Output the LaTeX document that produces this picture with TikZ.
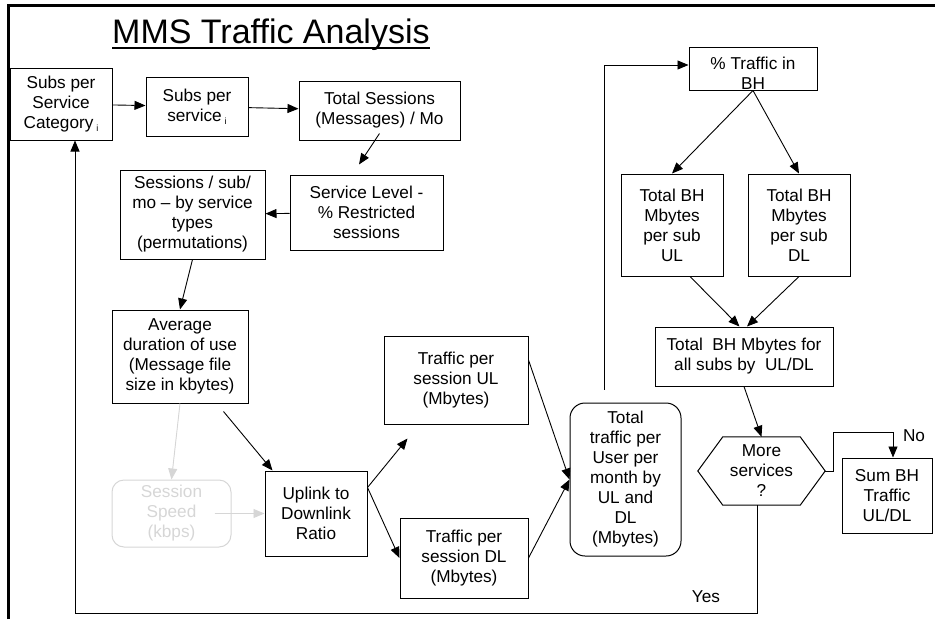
\documentclass[tikz,border=0pt]{standalone}
\usepackage{fontspec}
\setmainfont{Liberation Sans}
\usetikzlibrary{arrows.meta}
\definecolor{faded}{gray}{0.84}
\newcommand{\subi}{\,{\fontsize{9}{9}\selectfont\raisebox{-3pt}{i}}}
\begin{document}
\begin{tikzpicture}[x=1pt,y=-1pt,
  box/.style={draw,line width=1pt,align=center,inner sep=0pt,
    font=\fontsize{17.2}{20}\selectfont},
  arr/.style={line width=0.9pt,-{Triangle[length=11pt,width=9pt]}},
  note/.style={font=\fontsize{17.2}{20}\selectfont}]
\useasboundingbox (0,0) rectangle (935,619);
\draw[line width=3pt] (8,619) -- (8,5) -- (935,5);
\node[anchor=base west,inner sep=0pt,font=\fontsize{34}{40}\selectfont] (title) at (112,43) {MMS Traffic Analysis};
\draw[line width=1.8pt] ([yshift=-5pt]title.base west) -- ([yshift=-5pt]title.base east);
% left column
\node[box,minimum width=102pt,minimum height=72pt] (cat) at (61,104) {Subs per\\Service\\Category\subi};
\node[box,minimum width=102pt,minimum height=59pt] (srv) at (197,106.5) {Subs per\\service\subi};
\node[box,minimum width=161pt,minimum height=59pt] (sess) at (379.5,110.5) {Total Sessions\\(Messages) / Mo};
\node[box,minimum width=153pt,minimum height=75pt] (level) at (366.5,212.5) {Service Level -\\\% Restricted\\sessions};
\node[box,minimum width=145pt,minimum height=89pt] (permut) at (192.5,214.5) {Sessions / sub/\\mo -- by service\\types\\(permutations)};
\node[box,minimum width=136pt,minimum height=93pt] (avg) at (180,356.5) {Average\\duration of use\\(Message file\\size in kbytes)};
\node[box,draw=faded,text=faded,rounded corners=12pt,minimum width=119pt,minimum height=67pt] (speed) at (171.5,513.5) {Session\\Speed\\(kbps)};
\node[box,minimum width=102pt,minimum height=85pt] (ratio) at (316,513.5) {Uplink to\\Downlink\\Ratio};
\node[box,minimum width=144pt,minimum height=88pt] (tul) at (456,380) {Traffic per\\session UL\\(Mbytes)};
\node[box,minimum width=128pt,minimum height=80pt] (tdl) at (464,558) {Traffic per\\session DL\\(Mbytes)};
\node[box,rounded corners=15pt,minimum width=111pt,minimum height=153pt] (total) at (625.5,479.5) {Total\\traffic per\\User per\\month by\\UL and\\DL\\(Mbytes)};
% right column
\node[box,minimum width=128pt,minimum height=43pt,
  label={[note,align=center,yshift=-5pt]center:\% Traffic in\\BH}] (bh) at (753,68.5) {};
\node[box,minimum width=102pt,minimum height=102pt] (bhul) at (672,225) {Total BH\\Mbytes\\per sub\\UL};
\node[box,minimum width=102pt,minimum height=102pt] (bhdl) at (799,225) {Total BH\\Mbytes\\per sub\\DL};
\node[box,minimum width=178pt,minimum height=59pt] (all) at (744,356.5) {Total~~BH Mbytes for\\all subs by~~UL/DL};
\node[note,align=center,inner sep=0pt,minimum width=127pt,minimum height=68pt] (more) at (761.5,471) {More\\services\\?};
\draw[line width=1pt] (more.west) -- ([xshift=25pt]more.north west) -- ([xshift=-25pt]more.north east)
  -- (more.east) -- ([xshift=-25pt]more.south east) -- ([xshift=25pt]more.south west) -- cycle;
\node[box,minimum width=90pt,minimum height=75pt] (sum) at (887,495.5) {Sum BH\\Traffic\\UL/DL};
% connectors
\draw[arr] (cat) -- (srv);
\draw[arr] (srv) -- (sess);
\draw[arr] ([yshift=7pt]sess.south) -- ([xshift=-7.5pt,yshift=10pt]level.north);
\draw[arr] (level) -- (permut);
\draw[arr] (permut.south) -- (avg.north);
\draw[arr,draw=faded,fill=faded] (avg.south) -- (speed.north);
\draw[arr,draw=faded,fill=faded] ([xshift=-17pt]speed.east) -- (ratio.west);
\draw[arr] ([xshift=-25pt,yshift=-8pt]avg.south east) -- ([xshift=8pt]ratio.north west);
\draw[arr] ([yshift=-17pt]ratio.north east) -- ([xshift=24pt,yshift=-14pt]tul.south west);
\draw[arr] ([yshift=-17pt]ratio.north east) -- (tdl.west);
\draw[arr] ([yshift=20pt]tul.east) -- (total.west);
\draw[arr] (tdl.east) -- (total.west);
\draw[arr] ([xshift=-21pt,yshift=13pt]total.north) |- ([yshift=3.5pt]bh.west);
\draw[arr] (bh.south) -- (bhul.north);
\draw[arr] (bh.south) -- (bhdl.north);
\draw[arr] ([xshift=18pt]bhul.south) -- ([xshift=-4.5pt]all.north);
\draw[arr] (bhdl.south) -- ([xshift=3pt]all.north);
\draw[arr] (all.south) -- (more.north);
\draw[arr] (more.east) -- ++(8,0) |- ([xshift=6pt,yshift=25pt]sum.north) -- ([xshift=6pt]sum.north);
\draw[arr] ([xshift=-4.5pt]more.south) -- ++(0,108) -| ([xshift=14pt]cat.south);
\node[note] (lblno) at (914,436) {No};
\node[note] (lblyes) at (706,597) {Yes};
\end{tikzpicture}
\end{document}
